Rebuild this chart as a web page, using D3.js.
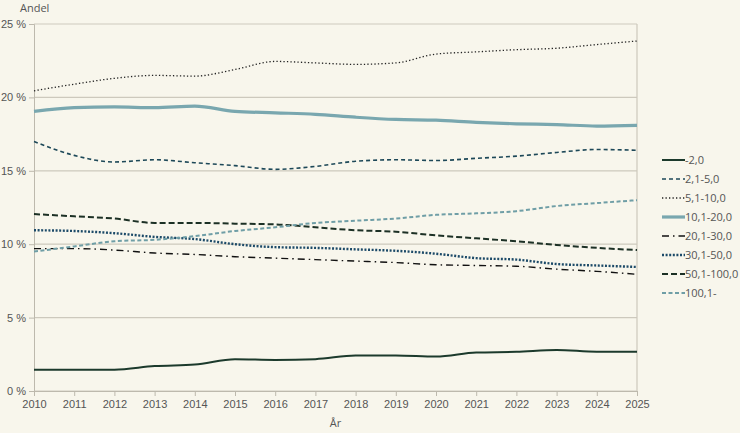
<!DOCTYPE html>
<html>
<head>
<meta charset="utf-8">
<script src="https://cdn.jsdelivr.net/npm/d3@7"></script>
<style>
  body { margin: 0; background: #f8f6ec; }
  svg { font-family: "Open Sans", sans-serif; }
  .tick text { fill: #555; font-size: 11px; }
</style>
</head>
<body>
<svg id="chart" width="740" height="433"></svg>
<script>
const years = d3.range(2010, 2026);
const yTicks = [0, 5, 10, 15, 20, 25];

const labels = ["-2,0", "2,1-5,0", "5,1-10,0", "10,1-20,0", "20,1-30,0", "30,1-50,0", "50,1-100,0", "100,1-"];

const v0 = [1.45, 1.45, 1.45, 1.7, 1.8, 2.16, 2.12, 2.17, 2.42, 2.42, 2.35, 2.62, 2.67, 2.8, 2.68, 2.68];
const v1 = [17.0, 16.05, 15.6, 15.75, 15.55, 15.35, 15.1, 15.3, 15.65, 15.75, 15.7, 15.85, 16.0, 16.25, 16.45, 16.4];
const v2 = [20.45, 20.9, 21.3, 21.5, 21.45, 21.9, 22.45, 22.35, 22.25, 22.35, 22.95, 23.1, 23.25, 23.35, 23.6, 23.84];
const v3 = [19.05, 19.3, 19.35, 19.3, 19.4, 19.05, 18.95, 18.85, 18.65, 18.5, 18.45, 18.3, 18.2, 18.15, 18.05, 18.1];
const v4 = [9.7, 9.7, 9.6, 9.4, 9.3, 9.15, 9.05, 8.95, 8.85, 8.75, 8.6, 8.55, 8.5, 8.3, 8.15, 7.95];
const v5 = [10.95, 10.9, 10.75, 10.5, 10.35, 10.0, 9.8, 9.75, 9.65, 9.55, 9.35, 9.05, 8.95, 8.65, 8.55, 8.45];
const v6 = [12.05, 11.9, 11.75, 11.45, 11.45, 11.4, 11.35, 11.15, 10.95, 10.85, 10.6, 10.4, 10.2, 9.95, 9.75, 9.6];
const v7 = [9.5, 9.85, 10.2, 10.3, 10.55, 10.9, 11.15, 11.45, 11.6, 11.75, 12.0, 12.1, 12.25, 12.6, 12.8, 13.0];

const styles = [
  { color: "#1c3a2c", width: 2, dash: null },
  { color: "#1d4858", width: 1.6, dash: "4,3" },
  { color: "#222", width: 1.3, dash: "1.3,2.2" },
  { color: "#79a7af", width: 3.2, dash: null },
  { color: "#111", width: 1.4, dash: "7,4,1.5,4" },
  { color: "#1c4a68", width: 2.4, dash: "2,1.6" },
  { color: "#1c3025", width: 2, dash: "6,3" },
  { color: "#6f9ea6", width: 2, dash: "4,2.5" }
];

const series = [v0, v1, v2, v3, v4, v5, v6, v7].map((values, i) => ({ name: labels[i], values, style: styles[i] }));

const margin = { left: 34, right: 103, top: 24, bottom: 42 };
const W = 740, H = 433;
const svg = d3.select("#chart");

const x = d3.scaleLinear().domain([2010, 2025]).range([margin.left, W - margin.right]);
const y = d3.scaleLinear().domain([0, 25]).range([H - margin.bottom, margin.top]);

// grid
svg.append("g")
  .selectAll("line")
  .data(yTicks)
  .join("line")
  .attr("x1", margin.left).attr("x2", W - margin.right)
  .attr("y1", d => y(d)).attr("y2", d => y(d))
  .attr("stroke", "#cdc9bd").attr("stroke-width", 1.2);

// right border
svg.append("line")
  .attr("x1", W - margin.right).attr("x2", W - margin.right)
  .attr("y1", y(25)).attr("y2", y(0))
  .attr("stroke", "#cdc9bd").attr("stroke-width", 1.2);

// axes
const yAxis = svg.append("g")
  .attr("transform", `translate(${margin.left},0)`)
  .call(d3.axisLeft(y).tickValues(yTicks).tickFormat(d => d + " %").tickSize(5).tickPadding(3));
yAxis.select(".domain").attr("stroke", "#bdb9ad");
yAxis.selectAll(".tick line").attr("stroke", "#bdb9ad");

const xAxis = svg.append("g")
  .attr("transform", `translate(0,${y(0)})`)
  .call(d3.axisBottom(x).tickValues(years).tickFormat(d3.format("d")).tickSize(5).tickPadding(4));
xAxis.select(".domain").attr("stroke", "#bdb9ad");
xAxis.selectAll(".tick line").attr("stroke", "#bdb9ad");

svg.append("text").attr("x", 20).attr("y", 12)
  .attr("fill", "#555").attr("font-size", 11).text("Andel");
svg.append("text").attr("x", x(2017.5)).attr("y", 427)
  .attr("fill", "#555").attr("font-size", 11).attr("text-anchor", "middle").text("År");

// lines
const line = d3.line()
  .x((d, i) => x(years[i]))
  .y(d => y(d))
  .curve(d3.curveMonotoneX);

svg.append("g")
  .selectAll("path")
  .data(series)
  .join("path")
  .attr("fill", "none")
  .attr("d", d => line(d.values))
  .attr("stroke", d => d.style.color)
  .attr("stroke-width", d => d.style.width)
  .attr("stroke-dasharray", d => d.style.dash);

// legend
const legend = svg.append("g").attr("transform", "translate(662,160)");
const item = legend.selectAll("g")
  .data(series)
  .join("g")
  .attr("transform", (d, i) => `translate(0,${i * 19})`);
item.append("line")
  .attr("x1", 0).attr("x2", 23).attr("y1", 0).attr("y2", 0)
  .attr("stroke", d => d.style.color)
  .attr("stroke-width", d => d.style.width)
  .attr("stroke-dasharray", d => d.style.dash);
item.append("text")
  .attr("x", 23).attr("y", 4)
  .attr("fill", "#555").attr("font-size", 11)
  .text(d => d.name);
</script>
</body>
</html>
